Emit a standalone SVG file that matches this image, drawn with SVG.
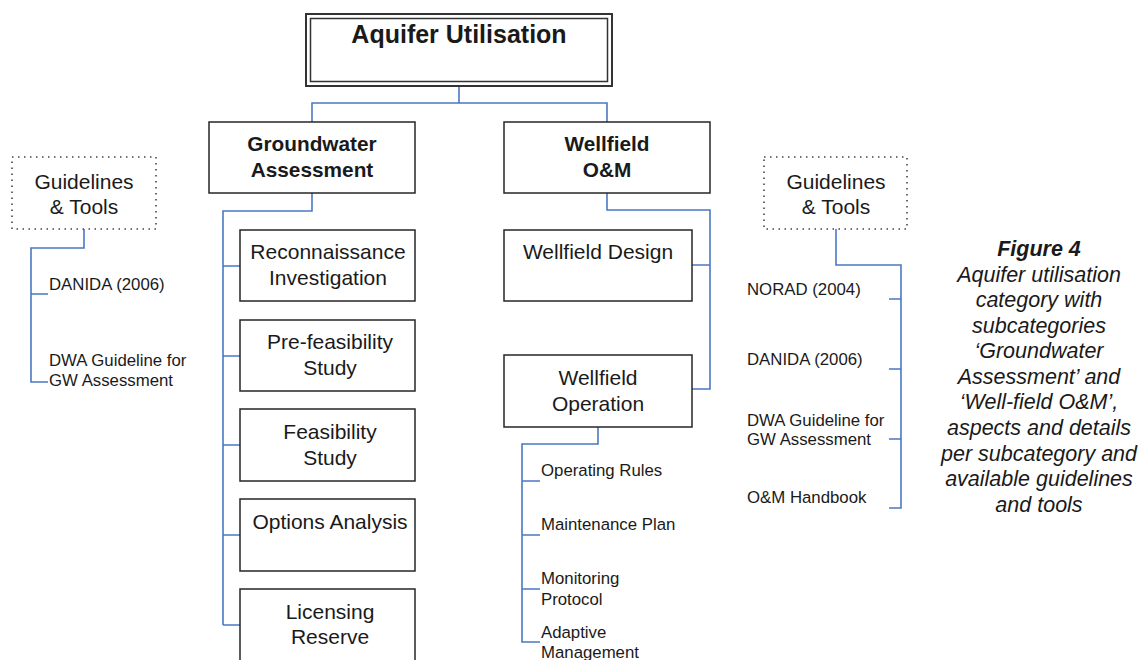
<svg xmlns="http://www.w3.org/2000/svg" width="1140" height="660" viewBox="0 0 1140 660">
<style>
.box{fill:#fff;stroke:#262626;stroke-width:1.5}
.dot{fill:none;stroke:#444;stroke-width:1.6;stroke-dasharray:1.5 4.5}
.c{fill:none;stroke:#4a78c2;stroke-width:1.6}
text{font-family:"Liberation Sans",Arial,sans-serif;fill:#1a1a1a}
.h{font-size:20.8px;font-weight:bold;text-anchor:middle}
.t{font-size:21px;text-anchor:middle}
.s{font-size:16.8px}
.cap{font-size:21.5px;font-style:italic;text-anchor:middle}
</style>
<rect width="1140" height="660" fill="#fff"/>
<g id="connectors">
<path class="c" d="M459,86V103M312,122V103H607V122"/>
<path class="c" d="M312,193V211H223V625M223,266H240M223,356H240M223,445H240M223,535H240M223,625H240"/>
<path class="c" d="M607,193V210H710V389H692M710,265H692"/>
<path class="c" d="M598,427V444H522V642H540M522,481H540M522,535H540M522,589H540"/>
<path class="c" d="M84,229V248H31V382H48M31,294H48"/>
<path class="c" d="M836,229V265H901V508H889M901,299H889M901,369H889M901,439H889"/>
</g>
<g id="aquifer-utilisation">
<rect x="306" y="14" width="306" height="72" fill="#fff" stroke="#333" stroke-width="2"/>
<rect x="310.5" y="18.5" width="297" height="63" fill="none" stroke="#333" stroke-width="1.5"/>
<text x="459" y="43" font-size="25" font-weight="bold" text-anchor="middle">Aquifer Utilisation</text>
</g>
<g id="groundwater-assessment">
<rect class="box" x="209" y="122" width="206" height="71"/>
<text class="h" x="312" y="151">Groundwater</text>
<text class="h" x="312" y="177">Assessment</text>
</g>
<g id="wellfield-om">
<rect class="box" x="504" y="122" width="206" height="71"/>
<text class="h" x="607" y="151">Wellfield</text>
<text class="h" x="607" y="177">O&amp;M</text>
</g>
<g id="reconnaissance">
<rect class="box" x="240" y="230" width="175" height="71"/>
<text class="t" x="328" y="259">Reconnaissance</text>
<text class="t" x="328" y="285">Investigation</text>
</g>
<g id="pre-feasibility">
<rect class="box" x="240" y="320" width="175" height="71"/>
<text class="t" x="330" y="349">Pre-feasibility</text>
<text class="t" x="330" y="375">Study</text>
</g>
<g id="feasibility">
<rect class="box" x="240" y="409" width="175" height="72"/>
<text class="t" x="330" y="439">Feasibility</text>
<text class="t" x="330" y="465">Study</text>
</g>
<g id="options-analysis">
<rect class="box" x="240" y="499" width="175" height="72"/>
<text class="t" x="330" y="529">Options Analysis</text>
</g>
<g id="licensing-reserve">
<rect class="box" x="240" y="589" width="175" height="80"/>
<text class="t" x="330" y="619">Licensing</text>
<text class="t" x="330" y="644">Reserve</text>
</g>
<g id="wellfield-design">
<rect class="box" x="504" y="230" width="188" height="71"/>
<text class="t" x="598" y="259">Wellfield Design</text>
</g>
<g id="wellfield-operation">
<rect class="box" x="504" y="355" width="188" height="72"/>
<text class="t" x="598" y="385">Wellfield</text>
<text class="t" x="598" y="411">Operation</text>
</g>
<g id="operation-items">
<text class="s" x="541" y="476">Operating Rules</text>
<text class="s" x="541" y="530">Maintenance Plan</text>
<text class="s" x="541" y="584">Monitoring</text>
<text class="s" x="541" y="605">Protocol</text>
<text class="s" x="541" y="638">Adaptive</text>
<text class="s" x="541" y="658">Management</text>
</g>
<g id="guidelines-left">
<rect class="dot" x="12" y="157" width="144" height="72"/>
<text class="t" x="84" y="189">Guidelines</text>
<text class="t" x="84" y="214">&amp; Tools</text>
<text class="s" x="49" y="290">DANIDA (2006)</text>
<text class="s" x="49" y="366">DWA Guideline for</text>
<text class="s" x="49" y="386">GW Assessment</text>
</g>
<g id="guidelines-right">
<rect class="dot" x="764" y="157" width="143" height="72"/>
<text class="t" x="836" y="189">Guidelines</text>
<text class="t" x="836" y="214">&amp; Tools</text>
<text class="s" x="747" y="295">NORAD (2004)</text>
<text class="s" x="747" y="365">DANIDA (2006)</text>
<text class="s" x="747" y="426">DWA Guideline for</text>
<text class="s" x="747" y="445">GW Assessment</text>
<text class="s" x="747" y="503">O&amp;M Handbook</text>
</g>
<g id="caption">
<text class="cap" x="1039" y="256" font-weight="bold">Figure 4</text>
<text class="cap" x="1039" y="282">Aquifer utilisation</text>
<text class="cap" x="1039" y="307">category with</text>
<text class="cap" x="1039" y="333">subcategories</text>
<text class="cap" x="1039" y="358">‘Groundwater</text>
<text class="cap" x="1039" y="384">Assessment’ and</text>
<text class="cap" x="1039" y="409">‘Well-field O&amp;M’,</text>
<text class="cap" x="1039" y="435">aspects and details</text>
<text class="cap" x="1039" y="461">per subcategory and</text>
<text class="cap" x="1039" y="486">available guidelines</text>
<text class="cap" x="1039" y="512">and tools</text>
</g>
</svg>
